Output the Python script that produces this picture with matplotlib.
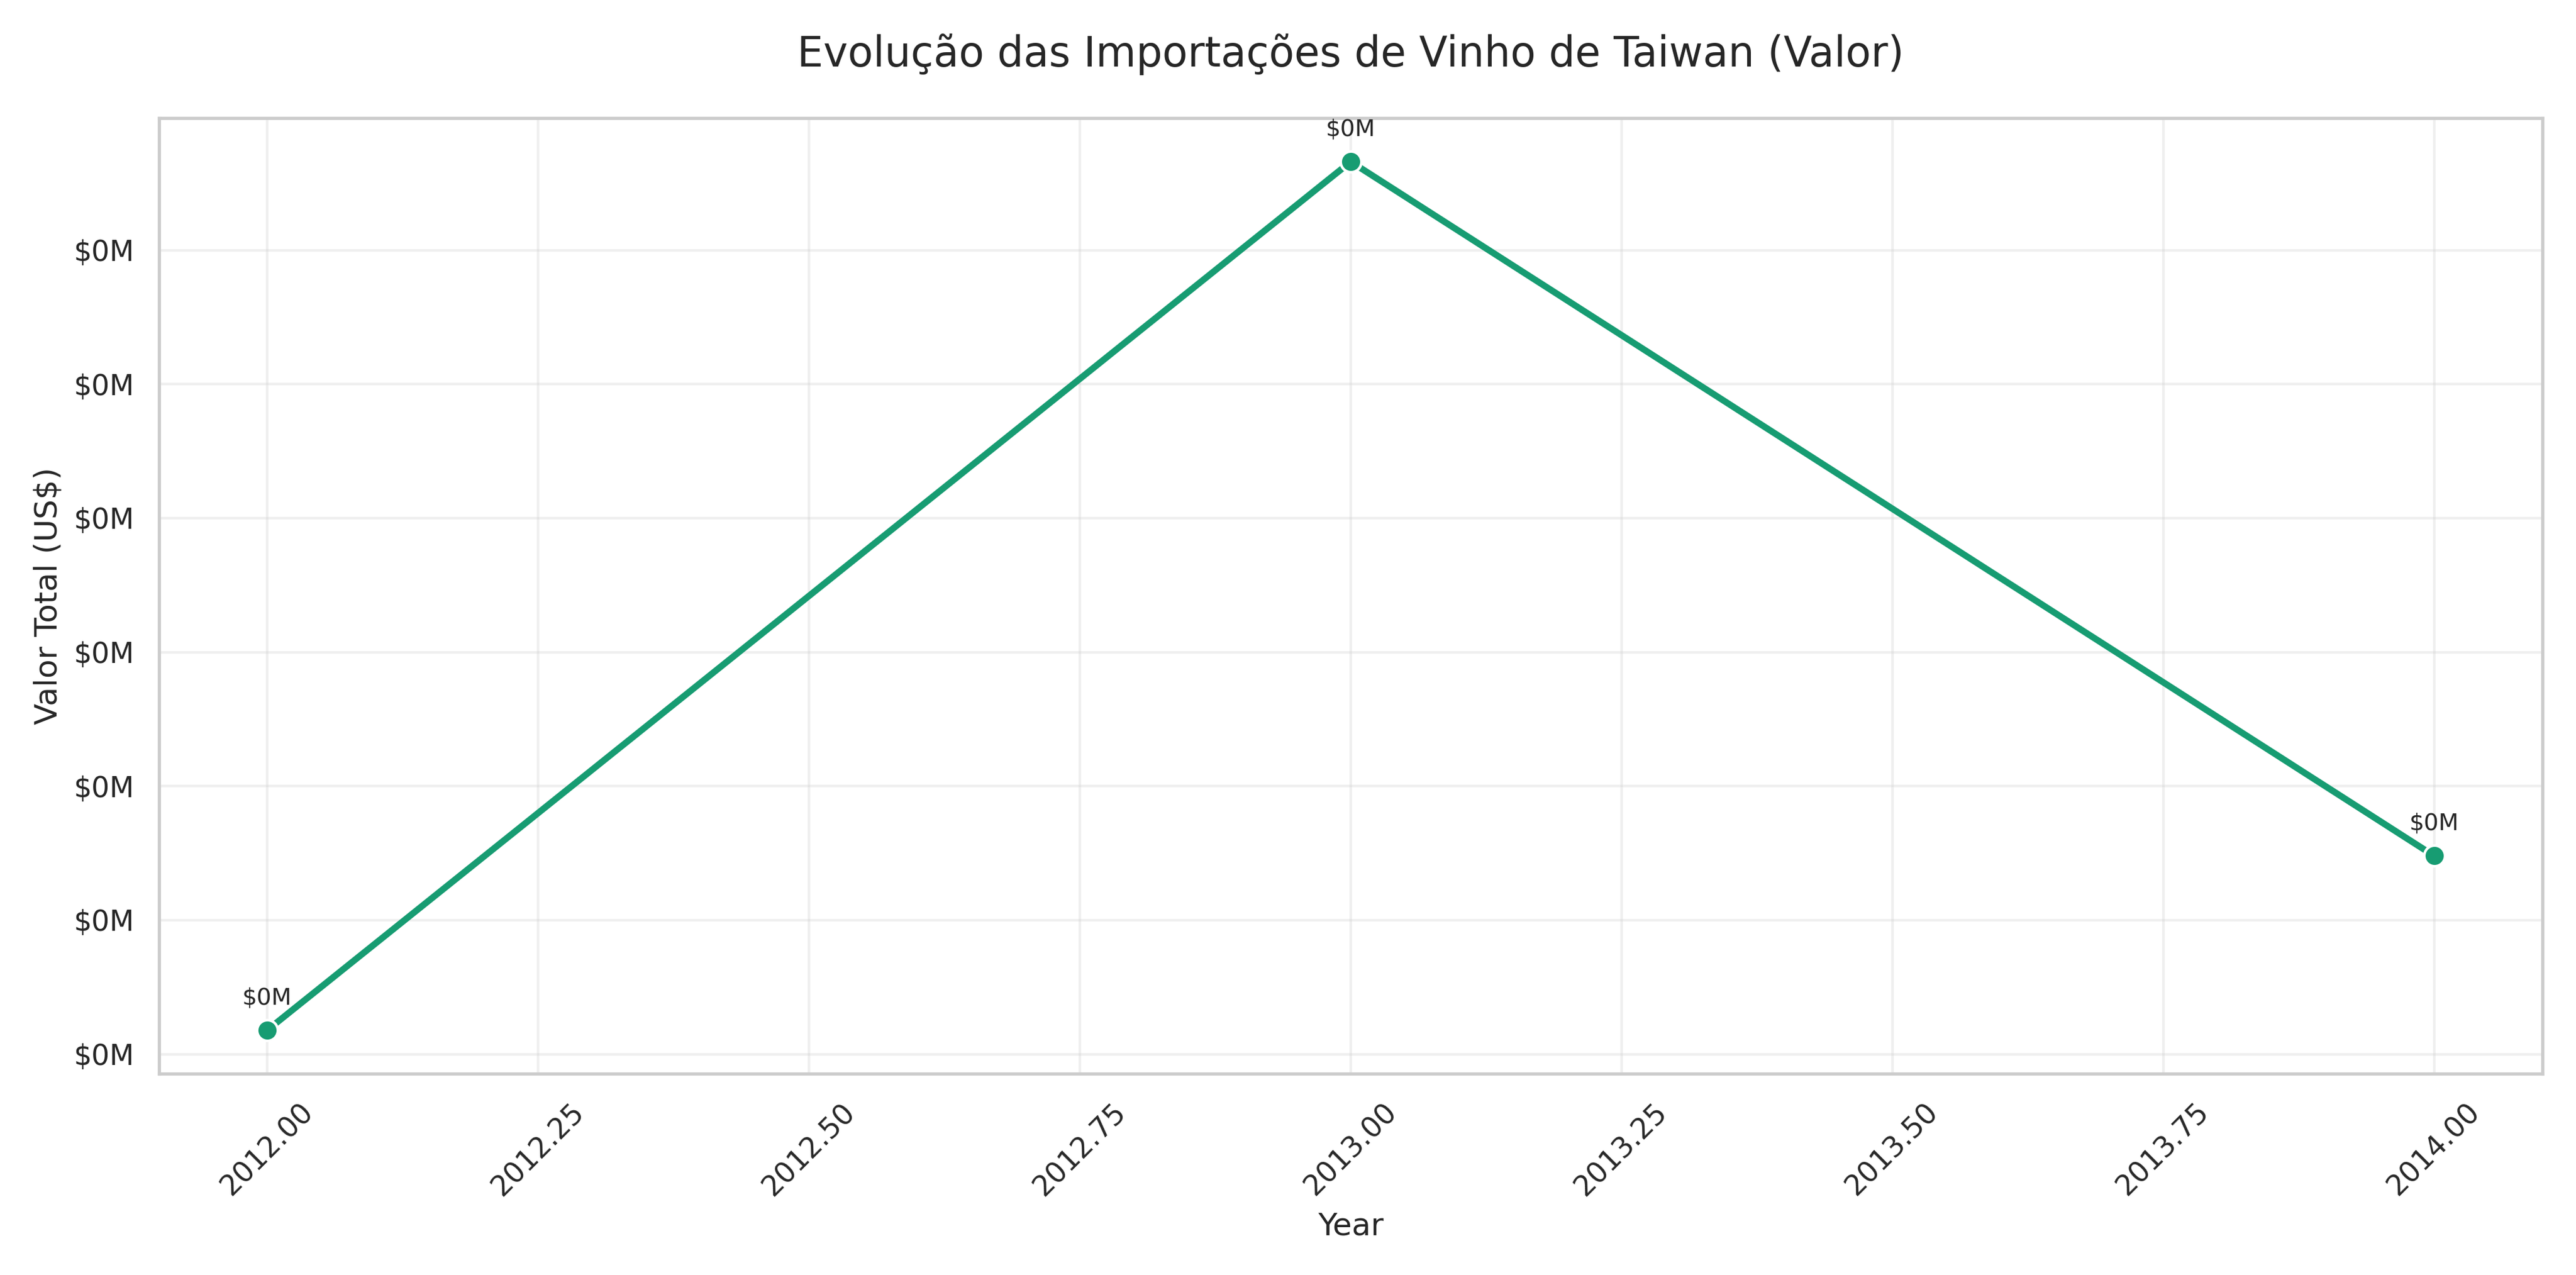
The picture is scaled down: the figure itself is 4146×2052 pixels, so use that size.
import matplotlib
matplotlib.use('Agg')
import matplotlib.pyplot as plt
import matplotlib.ticker as mticker
import seaborn as sns

years = [2012, 2013, 2014]
valores = [9000, 333000, 74000]

sns.set_theme(style='whitegrid')
plt.rcParams['font.family'] = ['DejaVu Sans']

fig, ax = plt.subplots(figsize=(13.82, 6.84), dpi=300)
ax.plot(years, valores, color='#179c72', linewidth=2.5, marker='o', markersize=8,
        markeredgecolor='white', markeredgewidth=1)
for x, y in zip(years, valores):
    ax.annotate(f'${y/1e6:.0f}M', (x, y), textcoords='offset points', xytext=(0, 10),
                ha='center', fontsize=9)

ax.yaxis.set_major_locator(mticker.MultipleLocator(50000))
ax.yaxis.set_major_formatter(mticker.FuncFormatter(lambda v, p: f'${v/1e6:.0f}M'))
ax.set_title('Evolução das Importações de Vinho de Taiwan (Valor)', fontsize=16, pad=20)
ax.set_xlabel('Year', fontsize=12)
ax.set_ylabel('Valor Total (US$)', fontsize=12)
ax.tick_params(labelsize=11)
ax.grid(True, alpha=0.3)
plt.xticks(rotation=45)
plt.tight_layout()
plt.savefig('out.png', dpi=300)
